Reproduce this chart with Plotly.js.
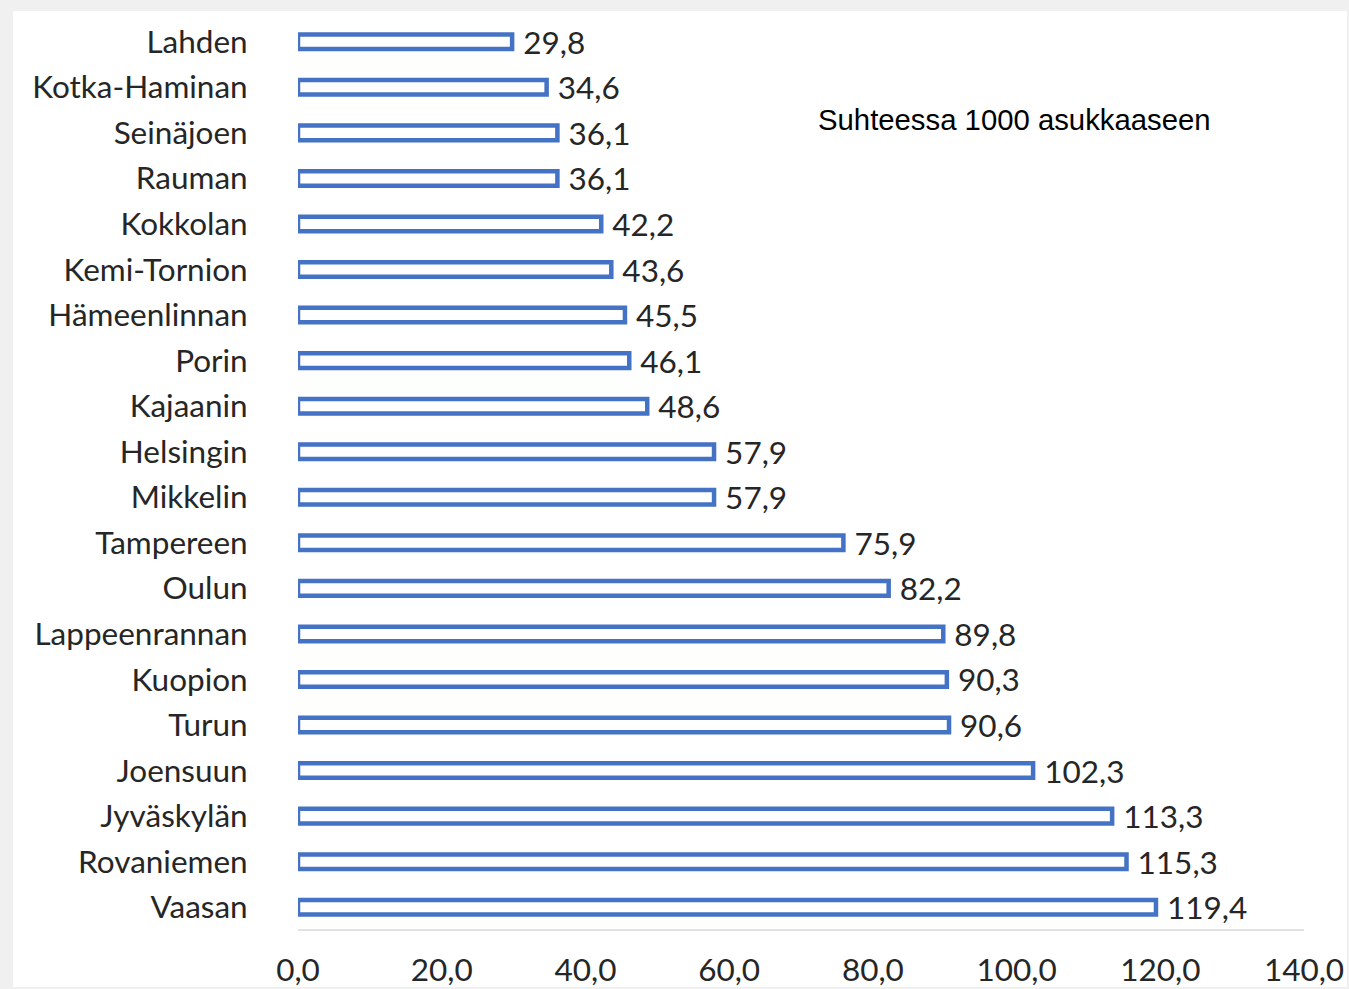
<!DOCTYPE html>
<html>
<head>
<meta charset="utf-8">
<script src="https://cdn.plot.ly/plotly-3.0.1.min.js"></script>
<style>
  html, body { margin: 0; padding: 0; background: #f0f0f0; width: 1349px; height: 989px; overflow: hidden; }
  #chart { position: absolute; left: 13px; top: 11px; width: 1334px; height: 976px; background: #ffffff; }
</style>
</head>
<body>
<div id="chart"></div>
<script>
const categories = ["Lahden", "Kotka-Haminan", "Seinäjoen", "Rauman", "Kokkolan", "Kemi-Tornion",
  "Hämeenlinnan", "Porin", "Kajaanin", "Helsingin", "Mikkelin", "Tampereen", "Oulun",
  "Lappeenrannan", "Kuopion", "Turun", "Joensuun", "Jyväskylän", "Rovaniemen", "Vaasan"];
const values = [29.8, 34.6, 36.1, 36.1, 42.2, 43.6, 45.5, 46.1, 48.6, 57.9, 57.9, 75.9, 82.2,
  89.8, 90.3, 90.6, 102.3, 113.3, 115.3, 119.4];
const valueLabels = ["29,8", "34,6", "36,1", "36,1", "42,2", "43,6", "45,5", "46,1", "48,6", "57,9",
  "57,9", "75,9", "82,2", "89,8", "90,3", "90,6", "102,3", "113,3", "115,3", "119,4"];
const xTicks = [0, 20, 40, 60, 80, 100, 120, 140];
const xTickLabels = ["0,0", "20,0", "40,0", "60,0", "80,0", "100,0", "120,0", "140,0"];
const noteText = "Suhteessa 1000 asukkaaseen";

const labelFont = { family: "Lato, 'Open Sans', sans-serif", size: 31.5, color: "#262626" };

const trace = {
  type: "bar",
  orientation: "h",
  x: values,
  y: categories,
  width: 0.32,
  marker: { color: "#ffffff", line: { color: "#4472C4", width: 4.5 } },
  text: valueLabels.map(s => " " + s),
  textposition: "outside",
  textfont: labelFont,
  constraintext: "none",
  cliponaxis: false,
  hoverinfo: "x+y"
};

const layout = {
  width: 1334,
  height: 976,
  margin: { l: 285, r: 43, t: 8, b: 57 },
  paper_bgcolor: "#ffffff",
  plot_bgcolor: "#ffffff",
  separators: ", ",
  showlegend: false,
  xaxis: {
    range: [0, 140],
    tickmode: "array",
    tickvals: xTicks,
    ticktext: xTickLabels,
    showgrid: false,
    zeroline: false,
    showline: false,
    ticks: "outside",
    ticklen: 12,
    tickcolor: "rgba(0,0,0,0)",
    tickfont: labelFont,
    fixedrange: true
  },
  yaxis: {
    type: "category",
    autorange: "reversed",
    showgrid: false,
    zeroline: false,
    showline: false,
    ticks: "outside",
    ticklen: 43,
    tickcolor: "rgba(0,0,0,0)",
    tickfont: labelFont,
    fixedrange: true
  },
  shapes: [{
    type: "line", xref: "x", yref: "paper",
    x0: 0, x1: 140, y0: 0, y1: 0,
    line: { color: "#d9d9d9", width: 1.5 }
  }],
  annotations: [{
    text: noteText,
    xref: "paper", yref: "paper",
    x: 0.515, y: 0.89,
    xanchor: "left", yanchor: "middle",
    showarrow: false,
    font: { family: "Arial, 'Liberation Sans', sans-serif", size: 29.3, color: "#000000" }
  }]
};

Plotly.newPlot("chart", [trace], layout, { displayModeBar: false, staticPlot: true });
</script>
</body>
</html>
